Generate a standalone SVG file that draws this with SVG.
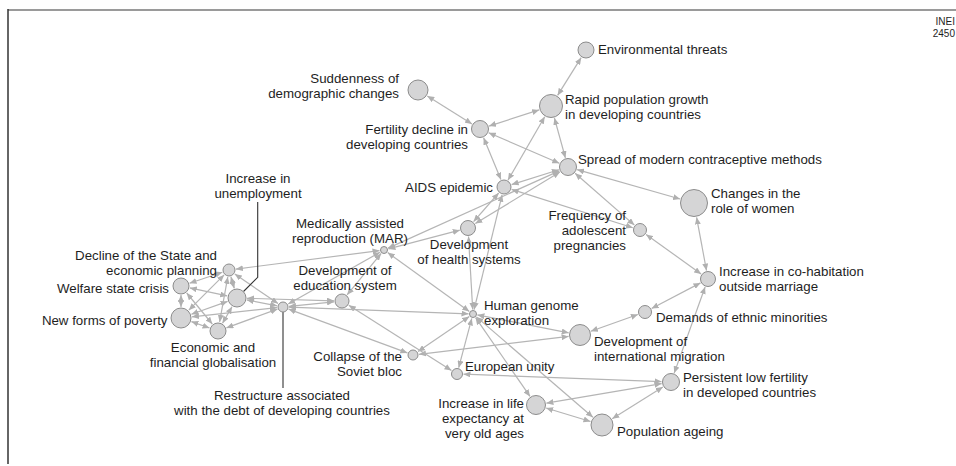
<svg xmlns="http://www.w3.org/2000/svg" width="956" height="466" viewBox="0 0 956 466">
<style>
text{font-family:"Liberation Sans",Arial,Helvetica,sans-serif;font-size:13.3px;fill:#1e1e1e}
.e{text-anchor:end}.m{text-anchor:middle}
circle{fill:#d5d5d6;stroke:#8c8c8c;stroke-width:1}
#links line{stroke:#b5b5b5;stroke-width:1.2;marker-start:url(#ah);marker-end:url(#ah)}
.lead{fill:none;stroke:#333;stroke-width:1.1}
.ined{font-size:10px}
</style>
<defs>
<marker id="ah" markerUnits="userSpaceOnUse" markerWidth="7" markerHeight="6" refX="7" refY="3" orient="auto-start-reverse"><path d="M0,0 L7,3 L0,6 z" fill="#b0b0b0"/></marker>
</defs>
<rect width="956" height="466" fill="#fff"/>
<g id="frame">
<line x1="8" y1="10" x2="956" y2="10" stroke="#9a9a9a" stroke-width="2"/>
<line x1="8" y1="9" x2="8" y2="464" stroke="#333" stroke-width="1.5"/>
<text class="e ined" x="955" y="25">INEI</text>
<text class="e ined" x="955" y="37">2450</text>
</g>
<g id="links">
<line x1="581.2" y1="57.6" x2="557.6" y2="95.4"/>
<line x1="427.3" y1="95.9" x2="472" y2="123.9"/>
<line x1="489" y1="126.1" x2="539.1" y2="109.9"/>
<line x1="488.7" y1="132.8" x2="559.3" y2="163.2"/>
<line x1="554.4" y1="118" x2="565.4" y2="157.9"/>
<line x1="483.6" y1="137.8" x2="500.9" y2="179.6"/>
<line x1="544.7" y1="116.8" x2="508" y2="180.1"/>
<line x1="511.6" y1="184.6" x2="558.9" y2="169.8"/>
<line x1="475.3" y1="223.6" x2="559.9" y2="172"/>
<line x1="388.1" y1="248.1" x2="559.3" y2="170.9"/>
<line x1="498.7" y1="193" x2="473.6" y2="221.6"/>
<line x1="511.6" y1="189.4" x2="632.8" y2="227.7"/>
<line x1="575.1" y1="173.3" x2="634.4" y2="225.1"/>
<line x1="577.1" y1="169.6" x2="680.1" y2="199"/>
<line x1="646.1" y1="234.4" x2="701.1" y2="274"/>
<line x1="696.6" y1="217.3" x2="706.5" y2="270.6"/>
<line x1="700.5" y1="282.9" x2="651.6" y2="308.5"/>
<line x1="705.1" y1="287" x2="674.2" y2="373.1"/>
<line x1="637.9" y1="314.5" x2="590.8" y2="331.2"/>
<line x1="477.4" y1="314.9" x2="568.7" y2="332.8"/>
<line x1="419" y1="354.3" x2="568.6" y2="336.4"/>
<line x1="418" y1="351.6" x2="469.3" y2="316.5"/>
<line x1="348.8" y1="305.3" x2="451.5" y2="370.5"/>
<line x1="288.6" y1="309.1" x2="407.4" y2="352.9"/>
<line x1="289" y1="307.2" x2="468.5" y2="313.8"/>
<line x1="463.5" y1="374.2" x2="661.5" y2="381.6"/>
<line x1="458.7" y1="367.7" x2="471.8" y2="318.4"/>
<line x1="475.6" y1="317.7" x2="530" y2="396.4"/>
<line x1="476.4" y1="316.9" x2="592.9" y2="417.2"/>
<line x1="546.4" y1="403.2" x2="661.6" y2="383.6"/>
<line x1="546.1" y1="408" x2="590.5" y2="421.5"/>
<line x1="612.2" y1="418.7" x2="662.9" y2="387"/>
<line x1="502.1" y1="194.8" x2="474.1" y2="309.6"/>
<line x1="468.5" y1="236.5" x2="472.7" y2="309.5"/>
<line x1="388.4" y1="248.9" x2="459.8" y2="230.2"/>
<line x1="387.7" y1="252.6" x2="469.3" y2="311.4"/>
<line x1="381.1" y1="253.5" x2="347.1" y2="294.8"/>
<line x1="380.1" y1="252.2" x2="288.2" y2="304.1"/>
<line x1="379.5" y1="250.6" x2="235.9" y2="269.1"/>
<line x1="222.4" y1="272.2" x2="189.5" y2="283.2"/>
<line x1="181" y1="295" x2="181" y2="307"/>
<line x1="189.8" y1="287.9" x2="227.2" y2="295.9"/>
<line x1="186.7" y1="293" x2="212.3" y2="324"/>
<line x1="188.8" y1="310.2" x2="224.1" y2="274.9"/>
<line x1="191.4" y1="314.3" x2="227.6" y2="301.4"/>
<line x1="191.9" y1="316.8" x2="277" y2="307.6"/>
<line x1="191.4" y1="321.6" x2="209.5" y2="328"/>
<line x1="219.6" y1="321.9" x2="227.8" y2="276.9"/>
<line x1="226.4" y1="327.9" x2="277.4" y2="309.1"/>
<line x1="222.5" y1="323.2" x2="232" y2="306.7"/>
<line x1="234.3" y1="288.4" x2="230.9" y2="276.7"/>
<line x1="246.8" y1="299.9" x2="277.1" y2="305.8"/>
<line x1="247" y1="298.3" x2="334" y2="300.8"/>
<line x1="278" y1="303.6" x2="234.8" y2="274"/>
<line x1="289" y1="306.4" x2="334" y2="301.8"/>
</g>
<g id="leaders">
<polyline class="lead" points="243.5,291.5 257.7,277.3 257.7,202"/>
<line class="lead" x1="283" y1="312" x2="283" y2="388"/>
</g>
<g id="n-env"><circle cx="586" cy="50" r="8"/><text x="598" y="54">Environmental threats</text></g>
<g id="n-sud"><circle cx="418" cy="90" r="10"/><text class="e" x="399" y="83">Suddenness of</text><text class="e" x="399" y="98">demographic changes</text></g>
<g id="n-rap"><circle cx="551" cy="106" r="11.5"/><text x="565" y="104">Rapid population growth</text><text x="565" y="119">in developing countries</text></g>
<g id="n-fert"><circle cx="480" cy="129" r="8.5"/><text class="e" x="468" y="134">Fertility decline in</text><text class="e" x="468" y="149">developing countries</text></g>
<g id="n-spr"><circle cx="568" cy="167" r="8.5"/><text x="578" y="164">Spread of modern contraceptive methods</text></g>
<g id="n-aids"><circle cx="504" cy="187" r="7"/><text class="e" x="493" y="191.5">AIDS epidemic</text></g>
<g id="n-hlth"><circle cx="468" cy="228" r="7.5"/><text class="m" x="469" y="248.5">Development</text><text class="m" x="469" y="263.5">of health systems</text></g>
<g id="n-chg"><circle cx="694" cy="203" r="13.5"/><text x="711" y="198">Changes in the</text><text x="711" y="213">role of women</text></g>
<g id="n-freq"><circle cx="640" cy="230" r="6.5"/><text class="e" x="626" y="220">Frequency of</text><text class="e" x="626" y="235">adolescent</text><text class="e" x="626" y="250">pregnancies</text></g>
<g id="n-cohab"><circle cx="708" cy="279" r="7.5"/><text x="719" y="275.8">Increase in co-habitation</text><text x="719" y="290.8">outside marriage</text></g>
<g id="n-eth"><circle cx="645" cy="312" r="6.5"/><text x="656" y="321.5">Demands of ethnic minorities</text></g>
<g id="n-mig"><circle cx="580" cy="335" r="10.5"/><text x="594" y="345.5">Development of</text><text x="594" y="360.5">international migration</text></g>
<g id="n-pers"><circle cx="671" cy="382" r="8.5"/><text x="683" y="382.3">Persistent low fertility</text><text x="683" y="397.3">in developed countries</text></g>
<g id="n-age"><circle cx="602" cy="425" r="11"/><text x="617" y="435.5">Population ageing</text></g>
<g id="n-life"><circle cx="536" cy="405" r="9.5"/><text class="e" x="524" y="407.5">Increase in life</text><text class="e" x="524" y="422.5">expectancy at</text><text class="e" x="524" y="437.5">very old ages</text></g>
<g id="n-eu"><circle cx="457" cy="374" r="5.5"/><text x="465" y="371">European unity</text></g>
<g id="n-sov"><circle cx="413" cy="355" r="5"/><text class="e" x="402" y="361.3">Collapse of the</text><text class="e" x="402" y="376.3">Soviet bloc</text></g>
<g id="n-hg"><circle cx="473" cy="314" r="3.5"/><text x="484" y="310.3">Human genome</text><text x="484" y="325.3">exploration</text></g>
<g id="n-mar"><circle cx="384" cy="250" r="3.5"/><text class="m" x="350" y="228">Medically assisted</text><text class="m" x="350" y="243">reproduction (MAR)</text></g>
<g id="n-edu"><circle cx="342" cy="301" r="7"/><text class="m" x="345" y="275">Development of</text><text class="m" x="345" y="290">education system</text></g>
<g id="n-rest"><circle cx="283" cy="307" r="5"/><text class="m" x="282" y="399.8">Restructure associated</text><text class="m" x="282" y="414.8">with the debt of developing countries</text></g>
<g id="n-unemp"><circle cx="237" cy="298" r="9"/><text class="m" x="258" y="183.3">Increase in</text><text class="m" x="258" y="198.3">unemployment</text></g>
<g id="n-decl"><circle cx="229" cy="270" r="6"/><text class="e" x="217" y="260">Decline of the State and</text><text class="e" x="217" y="275">economic planning</text></g>
<g id="n-welf"><circle cx="181" cy="286" r="8"/><text class="e" x="169" y="292.5">Welfare state crisis</text></g>
<g id="n-pov"><circle cx="181" cy="318" r="10"/><text class="e" x="167.5" y="324.5">New forms of poverty</text></g>
<g id="n-glob"><circle cx="218" cy="331" r="8"/><text class="m" x="213" y="351.8">Economic and</text><text class="m" x="213" y="366.8">financial globalisation</text></g>
</svg>
